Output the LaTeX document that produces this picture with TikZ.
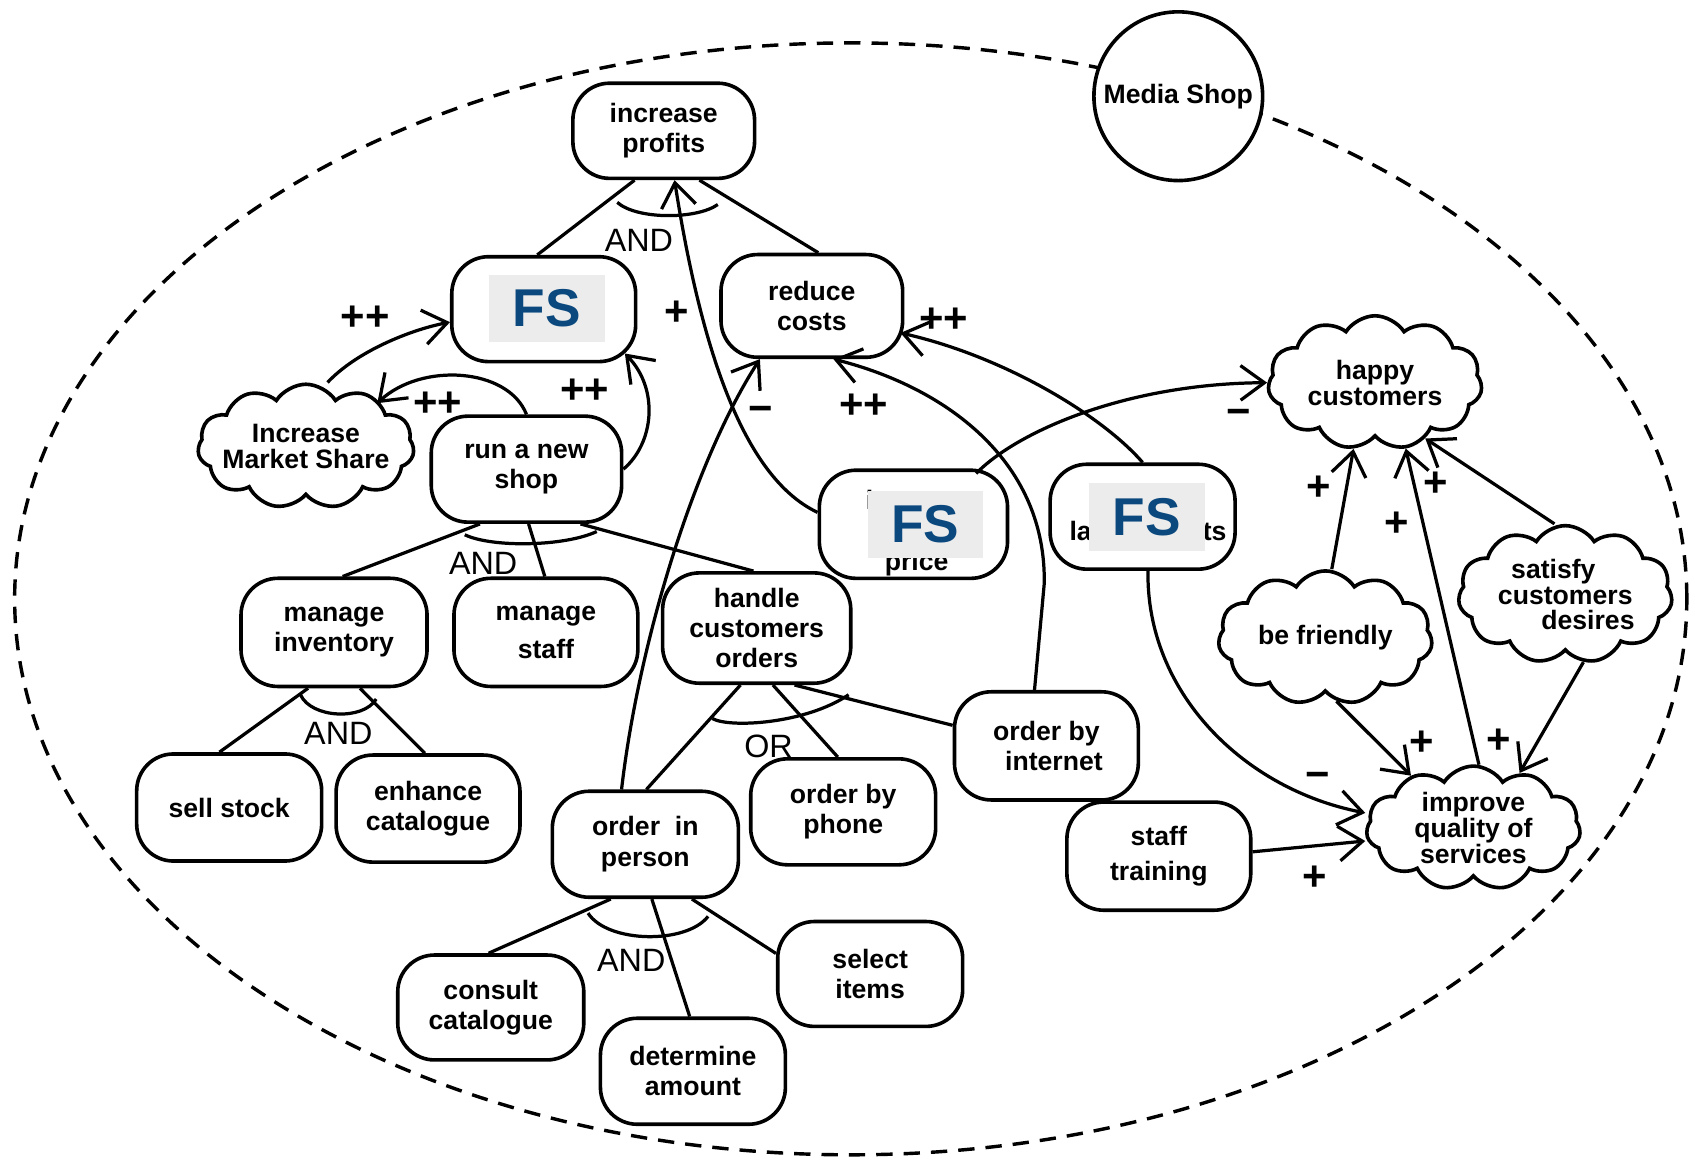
\documentclass[tikz,border=0pt]{standalone}
\usepackage{fontspec}
\setmainfont{Liberation Sans}
\usetikzlibrary{shapes.misc,shapes.symbols,arrows.meta}

\definecolor{fsblue}{RGB}{10,72,125}
\definecolor{fsgrey}{RGB}{236,236,236}

\newcommand{\nodefont}{\fontsize{7}{8}\selectfont\bfseries}
\newcommand{\cloudfont}{\fontsize{7}{6.8}\selectfont\bfseries}
\newcommand{\signfont}{\fontsize{11}{11}\selectfont\bfseries}
\newcommand{\junctfont}{\fontsize{8.5}{8.5}\selectfont}

\begin{document}
\begin{tikzpicture}[x=0.01cm,y=-0.01cm,
  task/.style={rectangle, rounded corners=0.34cm, draw, fill=white, line width=0.95pt,
    minimum width=1.71cm, minimum height=0.98cm, align=center, font=\nodefont, inner sep=0pt},
  soft/.style={cloud, cloud puffs=11, cloud puff arc=115, aspect=1.75, draw, fill=white,
    line width=0.95pt, minimum width=1.98cm, minimum height=1.14cm, align=center,
    font=\cloudfont, inner sep=0pt},
  plain/.style={align=center, font=\nodefont, inner sep=0pt},
  link/.style={line width=0.85pt},
  contrib/.style={link, -{Straight Barb[length=0.22cm,width=0.32cm,line width=0.85pt]}},
  sign/.style={font=\signfont, inner sep=0pt},
  junct/.style={font=\junctfont, inner sep=0pt},
  fsbox/.style={fill=fsgrey, text=fsblue, font=\fontsize{14}{14}\selectfont\bfseries,
    minimum width=1.07cm, minimum height=0.62cm, inner sep=0pt},
  boundary/.style={dash pattern=on 4.3pt off 2.9pt, line width=0.9pt}
]
% canvas
\fill[white] (0,0) rectangle (1568,1076);
\useasboundingbox (0,0) rectangle (1568,1076);

% actor boundary
\draw[boundary] (787,554) ellipse [x radius=7.73cm, y radius=5.14cm];

% goals and tasks
\node[task, minimum width=1.68cm, minimum height=0.88cm] (profits) at (614,121) {increase\\profits};
\node[task, minimum width=1.70cm, minimum height=0.97cm] (sales) at (503,286) {};
\node[task, minimum width=1.68cm, minimum height=0.95cm] (costs) at (751,283) {reduce\\costs};
\node[task, minimum width=1.76cm] (shop) at (487,434) {run a new\\shop};
\node[task, minimum width=1.74cm, minimum height=1.0cm] (price) at (845,485) {};
\node[plain, font=\fontsize{7}{8}\selectfont\bfseries] (pricetext) at (848,493.5)
  {\makebox[0.94cm][l]{i}\\\mbox{}\\price};
\node[task, minimum width=1.71cm, minimum height=0.97cm] (cut) at (1057,478) {};
\node[plain] (cuttext) at (1062,491) {\makebox[1.45cm]{la\hfill ts}};
\node[task, minimum width=1.72cm, minimum height=1.0cm] (inventory) at (309,585) {manage\\inventory};
\node[task, minimum width=1.70cm, minimum height=1.0cm] (staff) at (505,585) {manage\\[2pt]staff};
\node[task, minimum width=1.74cm, minimum height=1.02cm] (handle) at (700,581) {handle\\customers\\orders};
\node[task, minimum height=0.99cm] (sell) at (212,747) {sell stock};
\node[task, minimum width=1.70cm, minimum height=0.99cm] (enhance) at (396,748) {enhance\\catalogue};
\node[task, minimum width=1.72cm] (person) at (597,781) {order\ \ in\\person};
\node[task] (phone) at (780,751) {order by\\phone};
\node[task, minimum width=1.70cm, minimum height=1.0cm] (internet) at (968,690) {order by\\\hspace*{0.14cm}internet};
\node[task, minimum width=1.70cm, minimum height=1.0cm] (training) at (1072,792) {staff\\[1pt]training};
\node[task, minimum width=1.72cm, minimum height=0.97cm] (consult) at (454,932) {consult\\catalogue};
\node[task] (amount) at (641,991) {determine\\amount};
\node[task, minimum height=0.97cm] (select) at (805,901) {select\\items};

% softgoals
\node[soft, minimum width=2.0cm, minimum height=1.15cm] (share) at (283,413)
  {\makebox[1.1cm]{Increase}\\\makebox[1.1cm]{Market Share}};
\node[soft] (happy) at (1272,354) {happy\\customers};
\node[soft] (friendly) at (1226,590) {be friendly};
\node[soft] (satisfy) at (1448,550) {satisfy\hspace*{0.22cm}\\customers\\\hspace*{0.42cm}desires};
\node[soft] (quality) at (1363,766) {improve\\quality of\\services};

% actor
\node[circle, draw, fill=white, line width=0.95pt, minimum size=1.56cm, inner sep=0pt, font=\nodefont]
  (actor) at (1090,89) {Media Shop};

% AND: increase profits
\draw[link] ([xshift=-0.27cm]profits.south) -- ([xshift=-0.06cm]sales.north);
\draw[link] ([xshift=0.33cm]profits.south) -- ([xshift=0.06cm]costs.north);
\draw[link] ([xshift=-0.43cm,yshift=-0.205cm]profits.south) .. controls +(18,16) and +(-20,14) .. ([xshift=0.5cm,yshift=-0.225cm]profits.south);
\node[junct] (and1) at (591,222) {AND};

% AND: run a new shop
\draw[link] ([xshift=-0.43cm]shop.south) -- ([xshift=0.08cm]inventory.north);
\draw[link] ([xshift=0.02cm]shop.south) -- ([xshift=-0.01cm]staff.north);
\draw[link] ([xshift=0.5cm]shop.south) -- ([xshift=-0.03cm]handle.north);
\draw[link] ([xshift=-0.57cm,yshift=-0.1cm]shop.south) .. controls +(25,12) and +(-30,14) .. ([xshift=0.65cm,yshift=-0.07cm]shop.south);
\node[junct] (and2) at (447,521) {AND};

% AND: manage inventory
\draw[link] ([xshift=-0.24cm]inventory.south) -- ([xshift=-0.09cm]sell.north);
\draw[link] ([xshift=0.24cm]inventory.south) -- ([xshift=-0.03cm]enhance.north);
\draw[link] ([xshift=-0.31cm,yshift=-0.06cm]inventory.south) .. controls +(10,22) and +(-12,20) .. ([xshift=0.39cm,yshift=-0.1cm]inventory.south);
\node[junct] (and3) at (313,678) {AND};

% OR: handle customers orders
\draw[link] ([xshift=-0.15cm]handle.south) -- ([xshift=0.01cm]person.north);
\draw[link] ([xshift=0.15cm]handle.south) -- ([xshift=-0.05cm]phone.north);
\draw[link] ([xshift=0.35cm]handle.south) -- ([yshift=0.19cm]internet.west);
\draw[link] ([xshift=-0.41cm,yshift=-0.31cm]handle.south) .. controls +(16,9) and +(-40,27) .. ([xshift=0.85cm,yshift=-0.09cm]handle.south);
\node[junct] (or1) at (711,690) {OR};

% AND: order in person
\draw[link] ([xshift=-0.32cm]person.south) -- ([xshift=-0.02cm]consult.north);
\draw[link] ([xshift=0.06cm]person.south) -- ([xshift=-0.03cm]amount.north);
\draw[link] ([xshift=0.43cm]person.south) -- ([yshift=0.19cm]select.west);
\draw[link] ([xshift=-0.53cm,yshift=-0.13cm]person.south) .. controls +(18,28) and +(-20,26) .. ([xshift=0.58cm,yshift=-0.16cm]person.south);
\node[junct] (and4) at (584,888) {AND};

% contributions
\draw[contrib] ([yshift=0.11cm]price.west) .. controls (695,445) and (652,345) .. ([xshift=0.1cm]profits.south);
\node[sign] (c1) at (626,290) {+};

\draw[contrib] ([xshift=0.2cm]share.north) .. controls (330,325) and (380,305) .. ([yshift=-0.12cm]sales.west);
\node[sign] (c2) at (338,294) {++};

\draw[contrib] (shop.north) .. controls (470,340) and (390,335) .. ([xshift=0.66cm,yshift=0.4cm]share.center);
\node[sign] (c3) at (405,374) {++};

\draw[contrib] (shop.east) .. controls (605,410) and (610,360) .. ([xshift=0.75cm,yshift=-0.41cm]sales.center);
\node[sign] (c4) at (541,362) {++};

\draw[contrib] ([xshift=-0.22cm]person.north) .. controls (590,600) and (640,430) .. ([xshift=-0.48cm]costs.south);
\node[sign] (c5) at (704,383) {−};

\draw[contrib] ([xshift=-0.11cm]internet.north) -- (966,540) .. controls (968,430) and (880,360) .. ([xshift=0.2cm]costs.south);
\node[sign] (c6) at (799,376) {++};

\draw[contrib] (cut.north) .. controls (1020,385) and (930,330) .. ([xshift=0.82cm,yshift=-0.25cm]costs.center);
\node[sign] (c7) at (873,296) {++};

\draw[contrib] ([xshift=0.58cm,yshift=0.47cm]price.center) .. controls (940,400) and (1040,355) .. (happy.west);
\node[sign] (c8) at (1146,386) {−};

\draw[contrib] ([xshift=0.05cm]cut.south) .. controls (1060,640) and (1150,730) .. ([yshift=0.14cm]quality.west);
\node[sign] (c9) at (1219,722) {−};

\draw[contrib] ([yshift=0.04cm]training.east) -- ([yshift=-0.12cm]quality.west);
\node[sign] (c10) at (1216,812) {+};

\draw[contrib] ([xshift=0.06cm]friendly.north) -- (happy.-108);
\node[sign] (c11) at (1220,452) {+};

\draw[contrib] (quality.85) -- (happy.-65);
\node[sign] (c12) at (1292,485) {+};

\draw[contrib] ([xshift=-0.1cm]satisfy.north) -- (happy.-48);
\node[sign] (c13) at (1328,448) {+};

\draw[contrib] (friendly.-80) -- (quality.140);
\node[sign] (c14) at (1315,688) {+};

\draw[contrib] (satisfy.-75) -- (quality.50);
\node[sign] (c15) at (1386,686) {+};

% FS overlays
\node[fsbox] (fs1) at (506,285) {FS};
\node[fsbox, minimum width=1.06cm] (fs2) at (856,485) {FS};
\node[fsbox, minimum height=0.63cm] (fs3) at (1061,478) {FS};
\end{tikzpicture}
\end{document}
